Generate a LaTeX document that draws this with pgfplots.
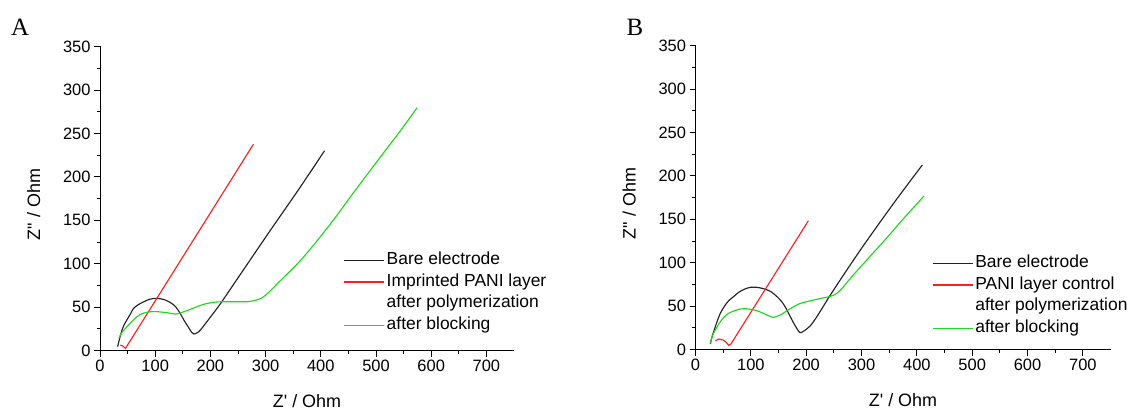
\documentclass[border=0pt]{standalone}
\usepackage{pgfplots}
\pgfplotsset{compat=1.18}
\usepackage{fontspec}
\setmainfont{Liberation Sans}
\newfontfamily\serifA{Liberation Serif}
\definecolor{cblack}{RGB}{35,35,35}
\definecolor{cred}{RGB}{255,30,30}
\definecolor{cgreen}{RGB}{30,215,30}

\pgfplotsset{
  panel/.style={
    scale only axis, height=304bp,
    xmin=0, xmax=750, ymin=0, ymax=350,
    axis lines*=left,
    xtick={0,100,...,700}, ytick={0,50,...,350},
    minor x tick num=1, minor y tick num=1,
    tick align=outside,
    major tick length=6bp, minor tick length=3.5bp,
    every tick/.style={black, line width=0.8bp},
    axis line style={black, line width=1bp},
    tick label style={font=\fontsize{16.5}{16.5}\selectfont},
    /pgf/number format/assume math mode=true,
    xlabel={Z\textquotesingle\ / Ohm},
    ylabel={Z\textquotedbl\ / Ohm},
    label style={font=\fontsize{18}{18}\selectfont},
    x label style={at={(axis description cs:0.5,-0.165)}, anchor=center},
    y label style={at={(axis description cs:-0.16,0.48)}, anchor=center},
    legend cell align=left,
    legend image code/.code={\draw[##1, line width=1.5bp] (0bp,0bp) -- (40bp,0bp);},
    every axis plot/.append style={line width=1.15bp},
  },
  lgd/.style={legend style={draw=none, fill=none, at={(axis description cs:#1)}, anchor=north west,
      font=\fontsize{17.5}{17.5}\selectfont, row sep=0pt, inner sep=0pt,
      nodes={inner xsep=2bp, inner ysep=2.5bp, text height=12.5bp, text depth=4.2bp}}},
  spacer/.style={draw=none, legend image code/.code={}},
}

\begin{document}
\begin{tikzpicture}[x=1bp,y=1bp]
\useasboundingbox (0,0) rectangle (1137,410);

\node[font=\serifA\fontsize{25}{25}\selectfont] at (20,383) {A};
\node[font=\serifA\fontsize{25}{25}\selectfont] at (635,383) {B};

% Panel A
\begin{axis}[panel, width=414bp, at={(100bp,59.5bp)}, anchor=south west, lgd={0.587,0.333}]
\addplot[cblack, smooth, tension=0.5] coordinates {
(32,4.4) (36,15) (40,23.6) (44,30) (49,35.5) (55,42) (61,48.6) (70,53) (79,56) (90,59)
(100.5,60) (110,59.5) (118.7,58) (128,55) (137,50.4) (145,43) (152,35) (160,27) (166,21)
(170,19) (176,20.5) (182,23.6) (200,38.5) (218.6,54.3) (260,93) (309,138.7) (360,185.5) (406.8,230)};
\addlegendentry{Bare electrode}
\addplot[cred] coordinates {
(37,6.3) (41.5,5.2) (46,2.3) (278,237.5)};
\addlegendentry{Imprinted PANI layer}
\addplot[spacer] coordinates {(0,0)};
\addlegendentry{after polymerization}
\addplot[cgreen, smooth, tension=0.5] coordinates {
(34,14) (40,21) (49,27.4) (57,33) (67,39) (76,42.3) (85.3,44) (95,44.8) (103.5,44.7)
(112,44.2) (121.7,43.5) (130,42.5) (137,42) (145,43) (152,44.7) (160,46.5) (170,49)
(185,52.6) (200.5,55) (215,56) (230.6,56.2) (250,56.1) (267,56.2) (280,57.5) (291.8,60)
(305,66.5) (322,77.4) (343,90.5) (364,104.2) (394.8,127.5) (425,152) (455,178) (485.6,204)
(516,229.5) (546,254.5) (574.5,279.5)};
\addlegendentry{after blocking}
\end{axis}

% Panel B
\begin{axis}[panel, width=415bp, at={(695.5bp,60.5bp)}, anchor=south west, lgd={0.569,0.32}]
\addplot[cblack, smooth, tension=0.5] coordinates {
(26.8,6.3) (30,15) (35.8,26.3) (40,34) (44.8,41.7) (52,49.5) (60,56.2) (70,61.5) (78,65.8)
(88,69.3) (99,71.6) (110,71.6) (120,70.5) (130,68.5) (138,65.8) (147,61) (156,55) (164,47)
(171.3,37.8) (180,27.5) (188.5,19.5) (195,21) (207,27) (220,38.5) (243,62) (275,93)
(309.4,125) (360,170) (410,212.5)};
\addlegendentry{Bare electrode}
\addplot[cred] coordinates {
(35.8,10.1) (42,12) (49.7,11) (55,8.5) (60,4.8) (64,6.3) (204,148.3)};
\addlegendentry{PANI layer control}
\addplot[spacer] coordinates {(0,0)};
\addlegendentry{after polymerization}
\addplot[cgreen, smooth, tension=0.5] coordinates {
(26.8,7) (30,15) (35.8,22.5) (44.8,32) (52,37.5) (60,41.7) (70,44.5) (81,46.6) (90,47)
(99,46.3) (110,44.8) (120,42.4) (130,39.5) (140,37) (148,38.5) (156.3,40.8) (166,45)
(177.5,49.3) (189,53) (207.5,56) (230,59.3) (245,61.5) (255,64.5) (265,70.5) (280,82)
(309.4,103) (345.6,128.5) (375.6,150.5) (413,176.7)};
\addlegendentry{after blocking}
\end{axis}
\end{tikzpicture}
\end{document}
